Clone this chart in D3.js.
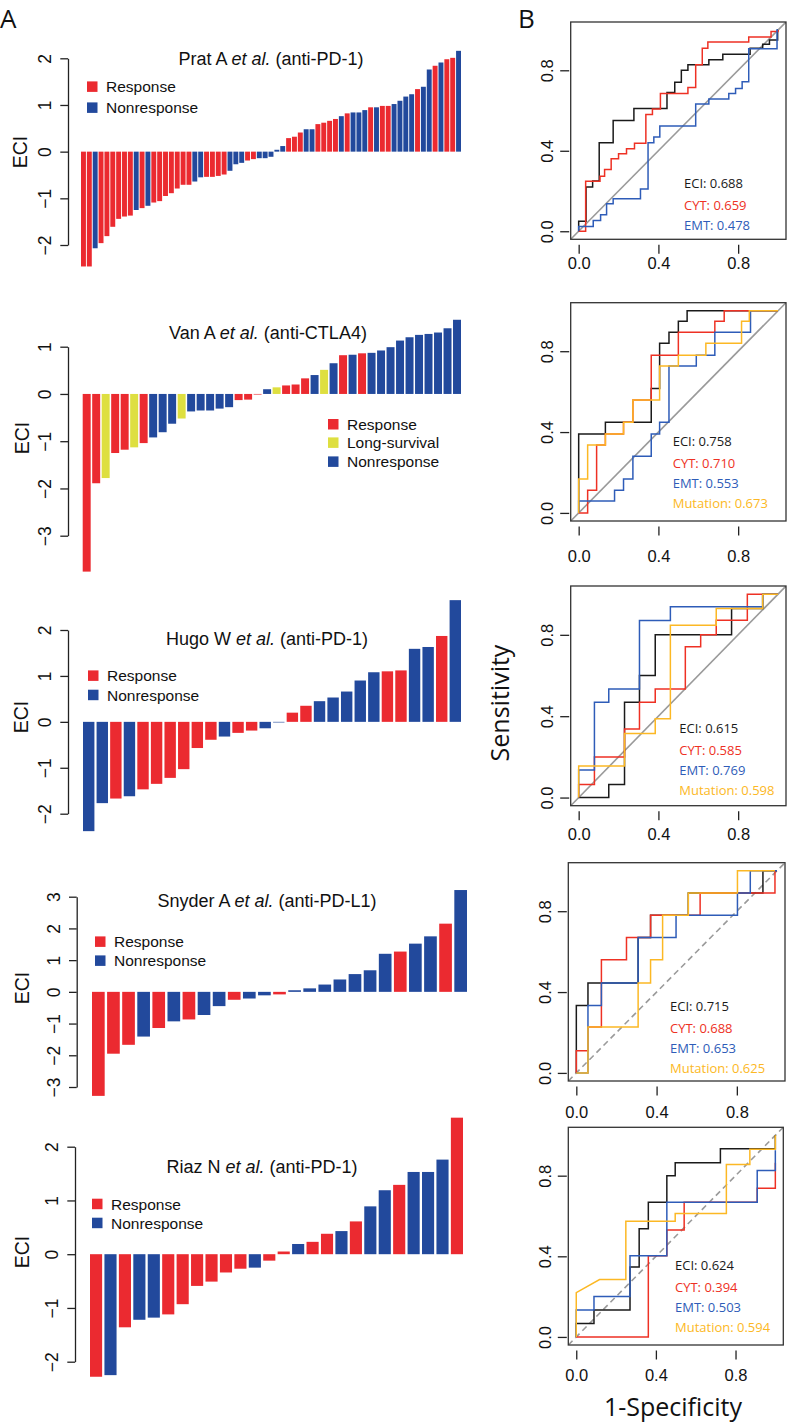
<!DOCTYPE html>
<html><head><meta charset="utf-8">
<script src="https://cdn.jsdelivr.net/npm/d3@7"></script>
<style>body{margin:0;background:#fff}svg{display:block}</style>
</head><body>
<svg id="chart" width="787" height="1425"></svg>
<script>
// ---------------- DATA ----------------
const pratValues = [-2.46,-2.46,-2.07,-1.96,-1.81,-1.61,-1.44,-1.39,-1.37,-1.25,-1.21,-1.16,-1.09,-1.06,-0.95,-0.89,-0.79,-0.71,-0.71,-0.64,-0.55,-0.54,-0.54,-0.52,-0.49,-0.41,-0.27,-0.24,-0.19,-0.16,-0.14,-0.14,-0.11,0.04,0.12,0.29,0.32,0.41,0.48,0.48,0.59,0.62,0.66,0.70,0.76,0.82,0.84,0.84,0.89,0.95,0.95,0.98,0.98,1.02,1.09,1.18,1.23,1.34,1.39,1.76,1.84,1.91,1.98,2.01,2.16];
const pratGroups = ["R","R","N","R","R","R","R","R","R","N","R","N","R","R","R","R","R","R","R","N","N","R","R","R","R","N","N","N","R","R","N","N","N","N","N","R","R","R","N","N","R","R","R","R","N","R","N","N","N","R","N","R","R","N","N","N","N","R","N","N","R","N","R","R","N"];

const vanValues = [-3.76,-1.89,-1.78,-1.25,-1.18,-1.13,-1.04,-0.92,-0.81,-0.63,-0.52,-0.37,-0.35,-0.35,-0.31,-0.28,-0.13,-0.12,-0.01,0.10,0.14,0.18,0.20,0.33,0.40,0.51,0.65,0.82,0.83,0.86,0.87,0.92,0.99,1.13,1.20,1.25,1.27,1.30,1.39,1.57];
const vanGroups = ["R","R","L","R","R","L","R","N","N","N","L","N","N","N","N","N","R","R","R","N","L","R","R","R","N","L","N","R","N","R","N","N","N","N","N","N","N","N","N","N"];

const hugoValues = [-2.38,-1.77,-1.67,-1.62,-1.47,-1.35,-1.22,-1.03,-0.57,-0.39,-0.32,-0.24,-0.19,-0.14,-0.01,0.20,0.35,0.45,0.53,0.66,0.90,1.08,1.10,1.12,1.59,1.63,1.87,2.65];
const hugoGroups = ["N","N","R","N","R","R","R","R","R","R","N","R","R","N","N","R","R","N","N","N","N","N","R","R","N","N","R","N"];

const snyderValues = [-3.28,-1.95,-1.67,-1.41,-1.14,-0.93,-0.87,-0.73,-0.45,-0.25,-0.21,-0.11,-0.08,0.05,0.11,0.23,0.39,0.56,0.68,1.20,1.27,1.52,1.75,2.15,3.21];
const snyderGroups = ["R","R","R","N","R","N","R","N","N","R","N","N","R","N","N","N","N","N","N","N","R","N","N","R","N"];

const riazValues = [-2.28,-2.25,-1.36,-1.22,-1.18,-1.12,-0.93,-0.59,-0.51,-0.34,-0.27,-0.25,-0.12,0.05,0.19,0.23,0.38,0.43,0.61,0.89,1.19,1.29,1.53,1.53,1.76,2.54];
const riazGroups = ["R","N","R","N","N","R","R","R","R","R","R","N","R","R","N","R","R","N","R","N","N","R","N","N","N","R"];

const groupNames = {R:"Response", L:"Long-survival", N:"Nonresponse"};
const barTitles = [
  ["Prat A ","et al."," (anti-PD-1)"],
  ["Van A ","et al."," (anti-CTLA4)"],
  ["Hugo W ","et al."," (anti-PD-1)"],
  ["Snyder A ","et al."," (anti-PD-L1)"],
  ["Riaz N ","et al."," (anti-PD-1)"]
];
const barTicks = [[-2,-1,0,1,2],[-3,-2,-1,0,1],[-2,-1,0,1,2],[-3,-2,-1,0,1,2,3],[-2,-1,0,1,2]];

// ROC curves: [1-specificity, sensitivity] vertices of step curves
const roc1ECI = [[0,0],[0,0.05],[0.037,0.05],[0.037,0.22],[0.07,0.22],[0.07,0.25],[0.103,0.25],[0.103,0.44],[0.173,0.44],[0.173,0.55],[0.277,0.55],[0.277,0.61],[0.443,0.61],[0.443,0.69],[0.482,0.69],[0.482,0.74],[0.515,0.74],[0.515,0.80],[0.548,0.80],[0.548,0.827],[0.653,0.827],[0.653,0.853],[0.723,0.853],[0.723,0.88],[0.86,0.88],[0.86,0.91],[0.923,0.91],[0.923,0.93],[0.957,0.93],[0.957,0.95],[0.998,0.95],[0.998,1],[1,1]];
const roc1CYT = [[0,0],[0.035,0],[0.035,0.248],[0.107,0.248],[0.107,0.273],[0.13,0.273],[0.13,0.307],[0.163,0.307],[0.163,0.36],[0.2,0.36],[0.2,0.385],[0.24,0.385],[0.24,0.41],[0.28,0.41],[0.28,0.437],[0.337,0.437],[0.337,0.58],[0.37,0.58],[0.37,0.607],[0.41,0.607],[0.41,0.685],[0.548,0.685],[0.548,0.715],[0.587,0.715],[0.587,0.827],[0.62,0.827],[0.62,0.91],[0.648,0.91],[0.648,0.94],[0.853,0.94],[0.853,0.965],[0.965,0.965],[0.965,0.993],[1,0.993],[1,1]];
const roc1EMT = [[0,0],[0,0.023],[0.073,0.023],[0.073,0.053],[0.11,0.053],[0.11,0.082],[0.14,0.082],[0.14,0.137],[0.173,0.137],[0.173,0.162],[0.31,0.162],[0.31,0.21],[0.348,0.21],[0.348,0.44],[0.377,0.44],[0.377,0.468],[0.407,0.468],[0.407,0.523],[0.587,0.523],[0.587,0.632],[0.653,0.632],[0.653,0.657],[0.753,0.657],[0.753,0.685],[0.787,0.685],[0.787,0.71],[0.82,0.71],[0.82,0.743],[0.853,0.743],[0.853,0.907],[0.995,0.907],[0.995,1],[1,1]];

const roc2ECI = [[0,0],[0,0.39],[0.134,0.39],[0.134,0.448],[0.364,0.448],[0.364,0.616],[0.406,0.616],[0.406,0.84],[0.453,0.84],[0.453,0.894],[0.5,0.894],[0.5,0.948],[0.544,0.948],[0.544,1],[1,1]];
const roc2CYT = [[0,0],[0.045,0],[0.045,0.112],[0.09,0.112],[0.09,0.336],[0.134,0.336],[0.134,0.39],[0.225,0.39],[0.225,0.448],[0.272,0.448],[0.272,0.559],[0.364,0.559],[0.364,0.78],[0.5,0.78],[0.5,0.894],[0.683,0.894],[0.683,0.948],[0.73,0.948],[0.73,1],[1,1]];
const roc2EMT = [[0,0],[0,0.059],[0.18,0.059],[0.18,0.112],[0.225,0.112],[0.225,0.168],[0.272,0.168],[0.272,0.28],[0.364,0.28],[0.364,0.39],[0.406,0.39],[0.406,0.448],[0.453,0.448],[0.453,0.727],[0.59,0.727],[0.59,0.78],[0.683,0.78],[0.683,0.894],[0.862,0.894],[0.862,1],[1,1]];
const roc2MUT = [[0,0],[0,0.168],[0.045,0.168],[0.045,0.336],[0.134,0.336],[0.134,0.39],[0.225,0.39],[0.225,0.448],[0.272,0.448],[0.272,0.559],[0.406,0.559],[0.406,0.727],[0.5,0.727],[0.5,0.78],[0.638,0.78],[0.638,0.84],[0.817,0.84],[0.817,0.948],[0.856,0.948],[0.856,1],[1,1]];

const roc3ECI = [[0,0],[0.151,0],[0.151,0.064],[0.23,0.064],[0.23,0.468],[0.305,0.468],[0.305,0.6],[0.384,0.6],[0.384,0.8],[0.767,0.8],[0.767,0.93],[0.923,0.93],[0.923,1],[1,1]];
const roc3CYT = [[0,0],[0,0.064],[0.079,0.064],[0.079,0.2],[0.23,0.2],[0.23,0.337],[0.305,0.337],[0.305,0.468],[0.384,0.468],[0.384,0.534],[0.535,0.534],[0.535,0.741],[0.612,0.741],[0.612,0.8],[0.69,0.8],[0.69,0.872],[0.846,0.872],[0.846,1],[1,1]];
const roc3EMT = [[0,0],[0,0.135],[0.079,0.135],[0.079,0.468],[0.151,0.468],[0.151,0.534],[0.305,0.534],[0.305,0.87],[0.46,0.87],[0.46,0.938],[0.923,0.938],[0.923,1],[1,1]];
const roc3MUT = [[0,0],[0,0.155],[0.23,0.155],[0.23,0.315],[0.384,0.315],[0.384,0.387],[0.46,0.387],[0.46,0.847],[0.69,0.847],[0.69,0.93],[0.923,0.93],[0.923,1],[1,1]];

const roc4ECI = [[0,0],[0,0.333],[0.058,0.333],[0.058,0.445],[0.308,0.445],[0.308,0.67],[0.37,0.67],[0.37,0.78],[0.558,0.78],[0.558,0.89],[0.93,0.89],[0.93,1],[1,1]];
const roc4CYT = [[0,0],[0,0.11],[0.058,0.11],[0.058,0.227],[0.125,0.227],[0.125,0.56],[0.25,0.56],[0.25,0.67],[0.37,0.67],[0.37,0.78],[0.617,0.78],[0.617,0.89],[0.99,0.89],[0.99,1],[1,1]];
const roc4EMT = [[0,0],[0.058,0],[0.058,0.333],[0.125,0.333],[0.125,0.445],[0.308,0.445],[0.308,0.67],[0.497,0.67],[0.497,0.78],[0.803,0.78],[0.803,0.89],[0.867,0.89],[0.867,1],[1,1]];
const roc4MUT = [[0,0],[0.058,0],[0.058,0.227],[0.308,0.227],[0.308,0.445],[0.37,0.445],[0.37,0.56],[0.43,0.56],[0.43,0.78],[0.558,0.78],[0.558,0.89],[0.803,0.89],[0.803,1],[0.99,1]];

const roc5ECI = [[0,0],[0,0.067],[0.089,0.067],[0.089,0.134],[0.27,0.134],[0.27,0.347],[0.316,0.347],[0.316,0.537],[0.362,0.537],[0.362,0.668],[0.455,0.668],[0.455,0.8],[0.497,0.8],[0.497,0.864],[0.724,0.864],[0.724,0.934],[1,0.934],[1,1]];
const roc5CYT = [[0,0],[0.362,0],[0.362,0.403],[0.455,0.403],[0.455,0.53],[0.542,0.53],[0.542,0.668],[0.909,0.668],[0.909,0.738],[1,0.738],[1,0.864]];
const roc5EMT = [[0,0],[0,0.134],[0.089,0.134],[0.089,0.2],[0.27,0.2],[0.27,0.403],[0.455,0.403],[0.455,0.668],[0.909,0.668],[0.909,0.826],[1,0.826],[1,0.926]];
const roc5MUT = [[0,0],[0,0.22],[0.117,0.285],[0.249,0.285],[0.249,0.574],[0.497,0.574],[0.497,0.612],[0.754,0.612],[0.754,0.856],[0.872,0.856],[0.872,0.931],[1,0.931],[1,1]];

const aucNames = ["ECI","CYT","EMT","Mutation"];
const auc1 = [0.688,0.659,0.478];
const auc2 = [0.758,0.710,0.553,0.673];
const auc3 = [0.615,0.585,0.769,0.598];
const auc4 = [0.715,0.688,0.653,0.625];
const auc5 = [0.624,0.394,0.503,0.594];
const rocTicks = [0,0.4,0.8];

// ---------------- STYLE ----------------
const FH = "'Liberation Sans', Arial, Helvetica, sans-serif";
const FM = "'Open Sans', 'Noto Sans', sans-serif";
const barColor = {R:"#eb2a30", N:"#22499c", L:"#dedf40"};
const lineColor = ["#1a1a1a","#ee3124","#2e5cb8","#fcb824"];

const svg = d3.select("#chart");

// ---------------- BAR PANELS ----------------
const barLayouts = [
  {ax:68,  yTop:58.3,  yBot:245,    x0:81,   x1:461, tx:271, ty:65,    lx:87, ly:[86.7,107.7], ex:20, ey:152},
  {ax:68,  yTop:346.7, yBot:535.7,  x0:82.7, x1:461, tx:268, ty:339,   lx:328, ly:[424.3,442.7,461.7], ex:22, ey:438, order:["R","L","N"]},
  {ax:68,  yTop:630,   yBot:813.7,  x0:83,   x1:461, tx:267, ty:645,   lx:88, ly:[675.7,695], ex:21, ey:717},
  {ax:76.7,yTop:896.7, yBot:1087,   x0:92,   x1:467, tx:267, ty:907,   lx:95, ly:[941.7,960.7], ex:22, ey:988},
  {ax:75,  yTop:1146.7,yBot:1361.7, x0:90,   x1:463, tx:262, ty:1173,  lx:92, ly:[1204,1223], ex:22, ey:1252}
];
const barData = [[pratValues,pratGroups],[vanValues,vanGroups],[hugoValues,hugoGroups],[snyderValues,snyderGroups],[riazValues,riazGroups]];

barData.forEach(([vals, grps], i) => {
  const L = barLayouts[i];
  const ticks = barTicks[i];
  const y = d3.scaleLinear().domain([d3.min(ticks), d3.max(ticks)]).range([L.yBot, L.yTop]);
  const x = d3.scaleBand().domain(d3.range(vals.length)).range([L.x0, L.x1]).paddingInner(0.16).paddingOuter(0);
  const g = svg.append("g");
  g.selectAll("rect.bar").data(vals).join("rect").attr("class","bar")
    .attr("x", (d,j) => x(j)).attr("width", x.bandwidth())
    .attr("y", d => d >= 0 ? y(d) : y(0))
    .attr("height", d => Math.max(0.6, Math.abs(y(d) - y(0))))
    .attr("fill", (d,j) => barColor[grps[j]]);
  const axis = d3.axisLeft(y).tickValues(ticks).tickSize(7.7).tickSizeOuter(0).tickFormat(d => d < 0 ? "\u2212" + Math.abs(d) : d);
  const ag = g.append("g").attr("transform", `translate(${L.ax},0)`).call(axis);
  ag.select(".domain").attr("stroke","#222").attr("stroke-width",1.3);
  ag.selectAll(".tick line").attr("stroke","#222").attr("stroke-width",1.3);
  ag.selectAll(".tick text").attr("x",0).attr("y",0).attr("dy","0.35em")
    .attr("transform","translate(-23,0) rotate(-90)").attr("text-anchor","middle")
    .attr("font-family",FH).attr("font-size","17.5px").attr("fill","#111");
  g.append("text").attr("transform",`translate(${L.ex},${L.ey}) rotate(-90)`).attr("dy","0.35em")
    .attr("text-anchor","middle").attr("font-family",FH).attr("font-size","19.5px").attr("fill","#111").text("ECI");
  const t = g.append("text").attr("x",L.tx).attr("y",L.ty).attr("text-anchor","middle")
    .attr("font-family",FH).attr("font-size","18px").attr("fill","#111");
  barTitles[i].forEach((s,k) => t.append("tspan").attr("font-style", k===1 ? "italic" : "normal").text(s));
  const keys = L.order || ["R","N"];
  const lg = g.append("g");
  keys.forEach((k,j) => {
    lg.append("rect").attr("x",L.lx).attr("y",L.ly[j]-5.3).attr("width",10.5).attr("height",10.5).attr("fill",barColor[k]);
    lg.append("text").attr("x",L.lx+19).attr("y",L.ly[j]).attr("dy","0.36em")
      .attr("font-family",FH).attr("font-size","15.5px").attr("fill","#111").text(groupNames[k]);
  });
});

// ---------------- ROC PANELS ----------------
const rocLayouts = [
  {L:570.7,R:786,T:22,   B:239.3, xl:263,   ax:684,   ay:183.3, dash:false},
  {L:570.7,R:786,T:302.7,B:521,   xl:556.7, ax:672.7, ay:441.7, dash:false},
  {L:570.7,R:786,T:586,  B:805.7, xl:834,   ax:679.3, ay:728.3, dash:false},
  {L:568.3,R:785,T:862.7,B:1081,  xl:1112.5,ax:670,   ay:1006,  dash:true},
  {L:568.3,R:783.3,T:1127.3,B:1345,xl:1375, ax:675,   ay:1265,  dash:true}
];
const rocCurves = [
  [roc1ECI, roc1CYT, roc1EMT],
  [roc2ECI, roc2CYT, roc2EMT, roc2MUT],
  [roc3ECI, roc3CYT, roc3EMT, roc3MUT],
  [roc4ECI, roc4CYT, roc4EMT, roc4MUT],
  [roc5ECI, roc5CYT, roc5EMT, roc5MUT]
];
const rocAUC = [auc1, auc2, auc3, auc4, auc5];
const annOffsets = [0, 22, 42, 62];

rocLayouts.forEach((P, i) => {
  const x = d3.scaleLinear().domain([-0.04, 1.04]).range([P.L, P.R]);
  const y = d3.scaleLinear().domain([-0.04, 1.04]).range([P.B, P.T]);
  const g = svg.append("g");
  const cid = "clip" + i;
  g.append("clipPath").attr("id", cid).append("rect")
    .attr("x",P.L).attr("y",P.T).attr("width",P.R-P.L).attr("height",P.B-P.T);
  const inner = g.append("g").attr("clip-path", `url(#${cid})`);
  inner.append("line").attr("x1",x(-0.04)).attr("y1",y(-0.04)).attr("x2",x(1.04)).attr("y2",y(1.04))
    .attr("stroke", "#9a9a9a").attr("stroke-width",1.6)
    .attr("stroke-dasharray", P.dash ? "6,4" : null);
  const line = d3.line().x(d => x(d[0])).y(d => y(d[1]));
  rocCurves[i].forEach((c, k) => {
    inner.append("path").attr("d", line(c)).attr("fill","none")
      .attr("stroke", lineColor[k]).attr("stroke-width",1.5).attr("stroke-linejoin","miter");
  });
  g.append("rect").attr("x",P.L).attr("y",P.T).attr("width",P.R-P.L).attr("height",P.B-P.T)
    .attr("fill","none").attr("stroke","#333").attr("stroke-width",1.3);
  const xa = g.append("g").attr("transform",`translate(0,${P.B+5.5})`)
    .call(d3.axisBottom(x).tickValues(rocTicks).tickSize(9).tickFormat(d3.format(".1f")));
  xa.select(".domain").remove();
  xa.selectAll(".tick line").attr("stroke","#222").attr("stroke-width",1.3);
  xa.selectAll(".tick text").attr("y", P.xl - P.B - 5.5).attr("dy","0.35em")
    .attr("font-family",FH).attr("font-size","16.5px").attr("fill","#111");
  const ya = g.append("g").attr("transform",`translate(${P.L-1.5},0)`)
    .call(d3.axisLeft(y).tickValues(rocTicks).tickSize(9).tickFormat(d3.format(".1f")));
  ya.select(".domain").remove();
  ya.selectAll(".tick line").attr("stroke","#222").attr("stroke-width",1.3);
  ya.selectAll(".tick text").attr("x",0).attr("y",0).attr("dy","0.35em")
    .attr("transform","translate(-21.5,0) rotate(-90)").attr("text-anchor","middle")
    .attr("font-family",FH).attr("font-size","16.5px").attr("fill","#111");
  rocAUC[i].forEach((v, k) => {
    g.append("text").attr("x",P.ax).attr("y",P.ay + annOffsets[k]).attr("dy","0.35em")
      .attr("font-family",FM).attr("font-size","13px").attr("fill",lineColor[k])
      .text(aucNames[k] + ": " + v.toFixed(3));
  });
});

// axis titles & panel letters
svg.append("text").attr("transform","translate(500,703) rotate(-90)").attr("dy","0.35em")
  .attr("text-anchor","middle").attr("font-family",FM).attr("font-size","25px").attr("fill","#111").text("Sensitivity");
svg.append("text").attr("x",673).attr("y",1416)
  .attr("text-anchor","middle").attr("font-family",FM).attr("font-size","25px").attr("fill","#111").text("1-Specificity");
svg.append("text").attr("x",0).attr("y",28).attr("font-family",FM).attr("font-size","26px").attr("fill","#111").text("A");
svg.append("text").attr("x",518).attr("y",28).attr("font-family",FM).attr("font-size","26px").attr("fill","#111").text("B");
</script>
</body></html>
